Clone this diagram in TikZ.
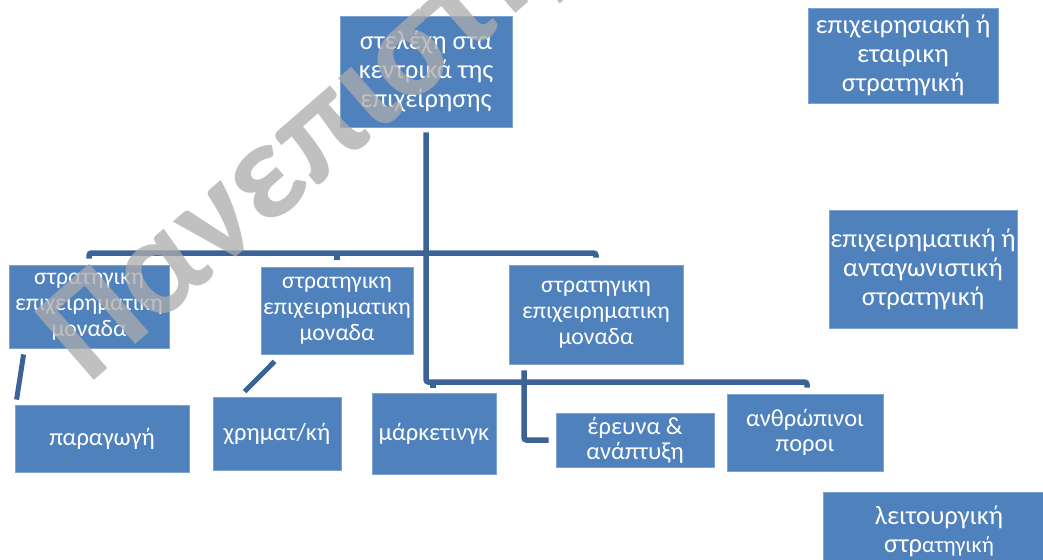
\documentclass[tikz,border=0pt]{standalone}
\usepackage{fontspec}
\setmainfont{Carlito}
\definecolor{boxblue}{RGB}{79,129,189}
\definecolor{boxedge}{RGB}{126,163,210}
\definecolor{linkblue}{RGB}{60,99,150}
\definecolor{wmgray}{RGB}{172,172,172}
\begin{document}
\begin{tikzpicture}[x=1pt,y=-1pt,
  box/.style={fill=boxblue, draw=boxedge, line width=0.8pt, text=white,
              align=center, inner sep=0pt},
  big/.style={font=\fontsize{26.5}{29}\selectfont},
  mid/.style={font=\fontsize{23.7}{26}\selectfont},
  low/.style={font=\fontsize{24.5}{25}\selectfont},
  conn/.style={draw=linkblue, line width=5.5pt, rounded corners=2.5pt},
]
\useasboundingbox (0,0) rectangle (1043,559);

% headquarters and the three strategy levels
\node[box, big, minimum width=172pt, minimum height=111pt] (hq) at (426,71.5)
  {στελέχη στα\\κεντρικά της\\επιχείρησης};
\node[box, big, minimum width=190pt, minimum height=95pt] (corp) at (903,55.5)
  {επιχειρησιακή ή\\εταιρικη\\στρατηγική};
\node[box, big, minimum width=188pt, minimum height=118pt] (comp) at (923,269)
  {επιχειρηματική ή\\ανταγωνιστική\\στρατηγική};
\node[box, minimum width=232pt, minimum height=78pt, font=\fontsize{26.5}{28}\selectfont]
  (func) at (939,531)
  {λειτουργική\\στρ{\fontsize{22.5}{28}\selectfont ατηγική}};

% strategic business units
\node[box, mid, minimum width=160pt, minimum height=83pt] (sbua) at (89,306.5)
  {στρατηγικη\\επιχειρηματικη\\μοναδα};
\node[box, mid, minimum width=152pt, minimum height=87pt] (sbub) at (337,310.5)
  {στρατηγικη\\επιχειρηματικη\\μοναδα};
\node[box, mid, minimum width=174pt, minimum height=99pt] (sbuc) at (596,314.5)
  {στρατηγικη\\επιχειρηματικη\\μοναδα};

% functional departments
\node[box, low, minimum width=174pt, minimum height=67pt] (prod) at (102,438.5) {παραγωγή};
\node[box, low, minimum width=128pt, minimum height=73pt] (fin) at (277,433.5) {χρηματ/κή};
\node[box, low, minimum width=124pt, minimum height=81pt] (mkt) at (434,433.5) {μάρκετινγκ};
\node[box, low, minimum width=158pt, minimum height=54pt] (rnd) at (635,440) {έρευνα \&\\ανάπτυξη};
\node[box, low, minimum width=156pt, minimum height=77pt] (hr) at (805,432.5) {ανθρώπινοι\\ποροι};

% connector rails
\coordinate (busa) at (0,253);
\coordinate (busb) at (0,382);

\draw[conn] ([yshift=6pt]sbua.north) -- (sbua.north |- busa) -- (sbuc.north |- busa)
  -- ([yshift=7pt]sbuc.north);
\draw[conn] (sbub.north |- busa) -- ([yshift=7pt]sbub.north);
\draw[conn] ([yshift=-5pt]hq.south) -- (hq.south |- busb) -- ([xshift=2pt]hr.north |- busb)
  -- ([xshift=2pt,yshift=6pt]hr.north);
\draw[conn] ([xshift=-1pt]mkt.north |- busb) -- ([xshift=-1pt,yshift=5pt]mkt.north);
\draw[conn] ([xshift=-72pt,yshift=-6pt]sbuc.south) |- ([xshift=-7pt]rnd.west);
\draw[draw=linkblue, line width=5pt] ([shift={(15pt,-6pt)}]sbua.south west)
  -- ([shift={(2pt,5pt)}]prod.north west);
\draw[draw=linkblue, line width=5pt] ([shift={(14pt,-7pt)}]sbub.south west)
  -- ([shift={(32pt,5pt)}]fin.north west);

% watermark
\begin{scope}
  \clip (0,0) rectangle (1043,559);
  \node[anchor=base west, rotate=41, text=wmgray, text opacity=0.76, inner sep=0pt,
        font=\bfseries\fontsize{140}{140}\selectfont] (wm) at (88,386) {Πανεπιστήμιο};
\end{scope}
\end{tikzpicture}
\end{document}
